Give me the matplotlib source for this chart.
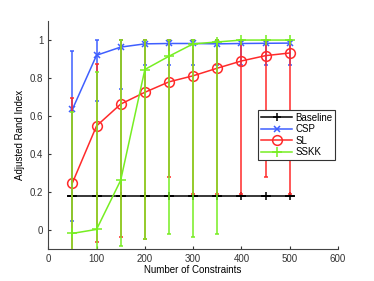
import numpy as np
import matplotlib
matplotlib.use('Agg')
import matplotlib.pyplot as plt
from matplotlib.lines import Line2D

plt.rcParams['font.family'] = ['Liberation Sans', 'DejaVu Sans']

# number of constraints
n_constraints = [50, 100, 150, 200, 250, 300, 350, 400, 450, 500]

# mean ARI, error bar low / high ends
baseline = [0.178] * 10
baseline_lo = [0.178] * 10
baseline_hi = [0.178] * 10

csp = [0.635, 0.92, 0.963, 0.98, 0.982, 0.982, 0.98, 0.982, 0.983, 0.984]
csp_lo = [0.045, 0.68, 0.74, 0.87, 0.87, 0.87, 0.87, 0.87, 0.87, 0.87]
csp_hi = [0.94, 1.0, 1.0, 1.0, 1.0, 1.0, 1.0, 1.0, 1.0, 1.0]

sl = [0.248, 0.548, 0.663, 0.725, 0.78, 0.812, 0.852, 0.89, 0.918, 0.932]
sl_lo = [-0.2, -0.065, -0.035, -0.05, 0.28, 0.19, 0.19, 0.19, 0.28, 0.19]
sl_hi = [0.695, 0.875, 1.0, 1.0, 1.0, 1.0, 1.0, 1.0, 1.0, 1.0]

sskk = [-0.018, 0.003, 0.262, 0.845, 0.915, 0.98, 0.99, 1.0, 1.0, 1.0]
sskk_lo = [-0.2, -0.2, -0.085, -0.05, -0.02, -0.035, -0.02, 1.0, 1.0, 1.0]
sskk_hi = [0.62, 0.83, 1.0, 1.0, 1.0, 1.0, 1.0, 1.0, 1.0, 1.0]

series = [
    ('Baseline', baseline, baseline_lo, baseline_hi, 'black', '+', 6),
    ('CSP', csp, csp_lo, csp_hi, '#3f5fff', 'x', 5),
    ('SL', sl, sl_lo, sl_hi, '#ff2a2a', 'o', 7),
    ('SSKK', sskk, sskk_lo, sskk_hi, '#77ee22', '+', 7.5),
]

fig = plt.figure(figsize=(3.74, 2.81), dpi=100)
ax = fig.add_axes([0.129, 0.114, 0.775, 0.811])

x = np.array(n_constraints)
handles = []
for i, (name, m, lo, hi, col, mk, ms) in enumerate(series):
    m = np.array(m)
    yerr = [m - np.array(lo), np.array(hi) - m]
    cs = 3.5 if name == 'Baseline' else 1.6
    ax.errorbar(x, m, yerr=yerr, color=col, marker=mk, markersize=ms,
                markerfacecolor='none', markeredgewidth=1.1, linewidth=1.1,
                elinewidth=1.1, capsize=cs, capthick=1.1, zorder=2 + i)
    handles.append(Line2D([], [], color=col, marker=mk, markersize=ms,
                          markerfacecolor='none', markeredgewidth=1.1,
                          linewidth=1.1, label=name))

ax.set_xlim(0, 600)
ax.set_ylim(-0.1, 1.1)
ax.set_xticks([0, 100, 200, 300, 400, 500, 600])
ax.set_yticks([0, 0.2, 0.4, 0.6, 0.8, 1])
ax.set_yticklabels(['0', '0.2', '0.4', '0.6', '0.8', '1'])
ax.tick_params(direction='in', length=2.5, labelsize=7, colors='#333333')
ax.spines['top'].set_visible(False)
ax.spines['right'].set_visible(False)
ax.spines['left'].set_color('#444444')
ax.spines['bottom'].set_color('#444444')
ax.set_xlabel('Number of Constraints', fontsize=7, labelpad=1)
ax.set_ylabel('Adjusted Rand Index', fontsize=7)
ax.yaxis.set_label_coords(-0.08, 0.5)

leg = ax.legend(handles=handles, loc='center right', bbox_to_anchor=(0.99, 0.5),
                fontsize=7, fancybox=False, edgecolor='#333333', framealpha=1,
                handlelength=3.2, borderpad=0.3, labelspacing=0.15,
                handletextpad=0.3, borderaxespad=0)
leg.get_frame().set_linewidth(0.8)
leg.set_zorder(10)

fig.savefig('out.png', dpi=100)
